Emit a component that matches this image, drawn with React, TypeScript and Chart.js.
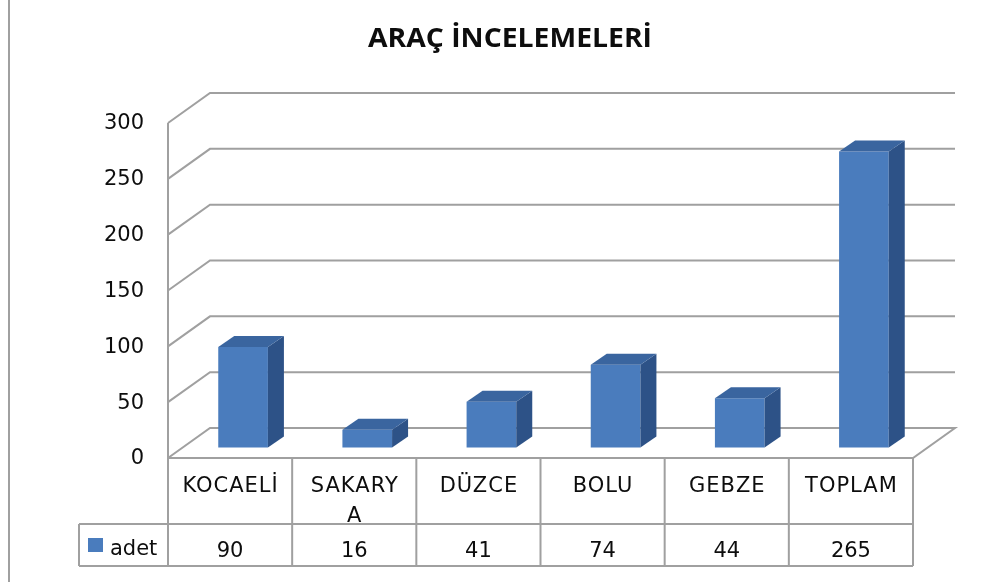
import React, { useEffect, useRef } from "react";
import { Chart, registerables } from "chart.js";

Chart.register(...registerables);

const chartTitle = "ARAÇ İNCELEMELERİ";
const categories = [["KOCAELİ"], ["SAKARY", "A"], ["DÜZCE"], ["BOLU"], ["GEBZE"], ["TOPLAM"]];
const seriesName = "adet";
const adet = [90, 16, 41, 74, 44, 265];
const yTicks = [0, 50, 100, 150, 200, 250, 300];

const W = 1001;
const H = 582;
const PLOT = { left: 168, right: 913, top: 123, bottom: 458 };
const DEPTH = { dx: 42, dy: -30 };
const BAR_SHIFT = { dx: 13, dy: -10.5 };
const BAR_DEPTH = { dx: 16, dy: -11 };
const TABLE = { headerBottom: 524, valueBottom: 566, legendLeft: 79 };
const COLORS = {
  grid: "#a0a0a0",
  front: "#4a7cbd",
  side: "#2d5287",
  top: "#3a659f",
  text: "#0d0d0d",
};
const FONT = '"DejaVu Sans", Verdana, sans-serif';

const excel3d = {
  id: "excel3d",
  beforeDraw(chart: any) {
    const ctx = chart.ctx;
    const y = chart.scales.y;
    const L = chart.chartArea.left;
    const R = chart.chartArea.right;
    const B = chart.chartArea.bottom;
    ctx.save();
    ctx.fillStyle = "#ffffff";
    ctx.fillRect(0, 0, W, H);

    // page frame line on the left
    ctx.strokeStyle = "#a0a0a0";
    ctx.lineWidth = 2;
    ctx.beginPath();
    ctx.moveTo(9, 0);
    ctx.lineTo(9, H);
    ctx.stroke();

    // title
    ctx.fillStyle = "#0d0d0d";
    ctx.font = 'bold 26px "Open Sans", sans-serif';
    ctx.textBaseline = "alphabetic";
    ctx.textAlign = "left";
    const tw = ctx.measureText(chartTitle).width;
    const target = 284;
    const sx = target / tw;
    ctx.save();
    ctx.translate(510 - target / 2, 47);
    ctx.scale(sx, 1);
    ctx.fillText(chartTitle, 0, 0);
    ctx.restore();

    // grid: left wall diagonals + back wall lines
    ctx.strokeStyle = COLORS.grid;
    ctx.lineWidth = 2;
    ctx.lineJoin = "miter";
    for (const v of yTicks) {
      const py = y.getPixelForValue(v);
      ctx.beginPath();
      ctx.moveTo(L, py);
      ctx.lineTo(L + DEPTH.dx, py + DEPTH.dy);
      ctx.lineTo(R + DEPTH.dx, py + DEPTH.dy);
      if (v === 0) {
        ctx.lineTo(R, B);
        ctx.lineTo(L, B);
      }
      ctx.stroke();
    }
    // front vertical axis line
    ctx.beginPath();
    ctx.moveTo(L, y.getPixelForValue(yTicks[yTicks.length - 1]));
    ctx.lineTo(L, B);
    ctx.stroke();

    // y tick labels
    ctx.fillStyle = COLORS.text;
    ctx.font = "21px " + FONT;
    ctx.textAlign = "right";
    ctx.textBaseline = "middle";
    for (const v of yTicks) {
      ctx.fillText(String(v), 144, y.getPixelForValue(v) + 1);
    }
    ctx.restore();
  },
  beforeDatasetsDraw(chart: any) {
    chart.ctx.save();
    chart.ctx.translate(BAR_SHIFT.dx, BAR_SHIFT.dy);
  },
  afterDatasetsDraw(chart: any) {
    const ctx = chart.ctx;
    const meta = chart.getDatasetMeta(0);
    for (const el of meta.data) {
      const p = el.getProps(["x", "y", "base", "width"], true);
      const l = p.x - p.width / 2;
      const r = p.x + p.width / 2;
      // side
      ctx.fillStyle = COLORS.side;
      ctx.beginPath();
      ctx.moveTo(r, p.y);
      ctx.lineTo(r + BAR_DEPTH.dx, p.y + BAR_DEPTH.dy);
      ctx.lineTo(r + BAR_DEPTH.dx, p.base + BAR_DEPTH.dy);
      ctx.lineTo(r, p.base);
      ctx.closePath();
      ctx.fill();
      // top
      ctx.fillStyle = COLORS.top;
      ctx.beginPath();
      ctx.moveTo(l, p.y);
      ctx.lineTo(l + BAR_DEPTH.dx, p.y + BAR_DEPTH.dy);
      ctx.lineTo(r + BAR_DEPTH.dx, p.y + BAR_DEPTH.dy);
      ctx.lineTo(r, p.y);
      ctx.closePath();
      ctx.fill();
    }
    ctx.restore();

    // data table
    const x = chart.scales.x;
    const L = chart.chartArea.left;
    const R = chart.chartArea.right;
    const B = chart.chartArea.bottom;
    const n = categories.length;
    const colW = (R - L) / n;
    ctx.save();
    ctx.strokeStyle = COLORS.grid;
    ctx.lineWidth = 2;
    ctx.beginPath();
    for (let i = 0; i <= n; i++) {
      const cx = L + i * colW;
      ctx.moveTo(cx, B);
      ctx.lineTo(cx, TABLE.valueBottom);
    }
    ctx.moveTo(TABLE.legendLeft, TABLE.headerBottom);
    ctx.lineTo(R, TABLE.headerBottom);
    ctx.moveTo(TABLE.legendLeft, TABLE.valueBottom);
    ctx.lineTo(R, TABLE.valueBottom);
    ctx.moveTo(TABLE.legendLeft, TABLE.headerBottom);
    ctx.lineTo(TABLE.legendLeft, TABLE.valueBottom);
    ctx.stroke();

    ctx.fillStyle = COLORS.text;
    ctx.font = "21px " + FONT;
    ctx.textAlign = "center";
    ctx.textBaseline = "alphabetic";
    categories.forEach((lines, i) => {
      const cx = x.getPixelForValue(i);
      ctx.letterSpacing = "1px";
      lines.forEach((t, j) => {
        ctx.fillText(t, cx + 0.5, 492 + j * 30);
      });
      ctx.letterSpacing = "0px";
      ctx.fillText(String(adet[i]), cx, 557);
    });
    // legend key
    ctx.fillStyle = COLORS.front;
    ctx.fillRect(88, 538, 15, 14);
    ctx.fillStyle = COLORS.text;
    ctx.textAlign = "left";
    ctx.fillText(seriesName, 110, 555);
    ctx.restore();
  },
};

export default function App() {
  const ref = useRef<HTMLCanvasElement>(null);
  useEffect(() => {
    document.body.style.margin = "0";
    const chart = new Chart(ref.current!, {
      type: "bar",
      data: {
        labels: categories,
        datasets: [
          {
            label: seriesName,
            data: adet,
            backgroundColor: COLORS.front,
            borderWidth: 0,
            barPercentage: 0.4,
            categoryPercentage: 1,
            clip: false as any,
          },
        ],
      },
      options: {
        responsive: false,
        animation: false,
        layout: {
          padding: {
            left: PLOT.left,
            right: W - PLOT.right,
            top: PLOT.top,
            bottom: H - PLOT.bottom,
          },
        },
        plugins: {
          legend: { display: false },
          title: { display: false },
          tooltip: { enabled: false },
        },
        scales: {
          x: { display: false, offset: true },
          y: { display: false, min: 0, max: 300, ticks: { stepSize: 50 } },
        },
      },
      plugins: [excel3d],
    });
    return () => chart.destroy();
  }, []);
  return (
    <div style={{ position: "absolute", left: 0, top: 0, width: W, height: H, background: "#fff" }}>
      <canvas ref={ref} width={W} height={H} style={{ display: "block" }} />
    </div>
  );
}
